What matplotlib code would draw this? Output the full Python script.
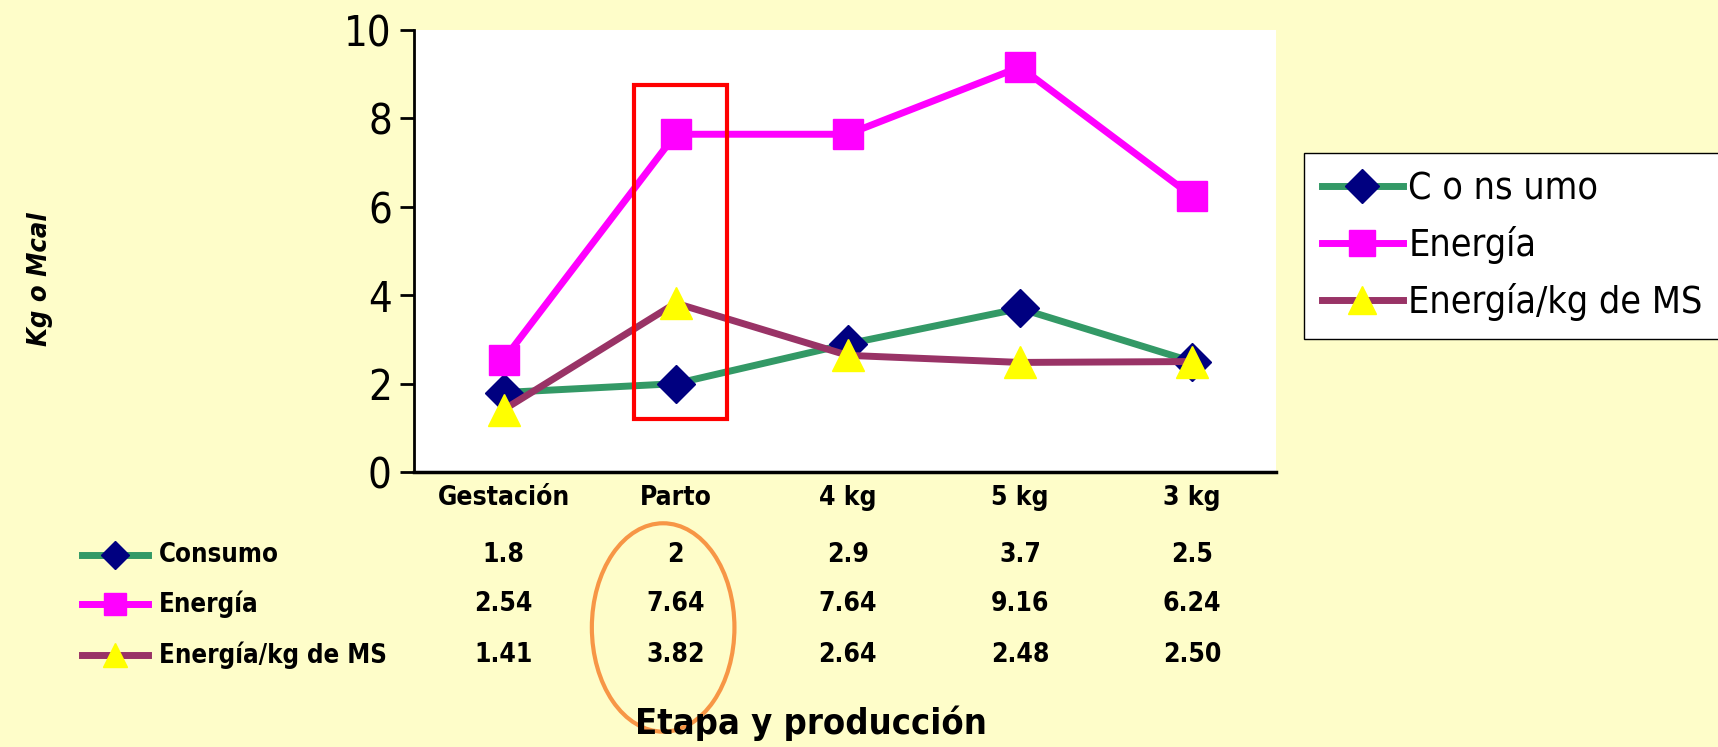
import matplotlib.pyplot as plt
from matplotlib.lines import Line2D
from matplotlib.patches import Rectangle, Ellipse
from matplotlib.transforms import blended_transform_factory

# Datos
etapas = ['Gestación', 'Parto', '4 kg', '5 kg', '3 kg']
consumo = [1.8, 2, 2.9, 3.7, 2.5]
energia = [2.54, 7.64, 7.64, 9.16, 6.24]
energia_ms = [1.41, 3.82, 2.64, 2.48, 2.50]
tabla_consumo = ['1.8', '2', '2.9', '3.7', '2.5']
tabla_energia = ['2.54', '7.64', '7.64', '9.16', '6.24']
tabla_energia_ms = ['1.41', '3.82', '2.64', '2.48', '2.50']

plt.rcParams['font.family'] = ['DejaVu Sans']
plt.rcParams['font.stretch'] = 'condensed'

fondo = '#FEFDC9'
fig = plt.figure(figsize=(17.18, 7.47), dpi=100, facecolor=fondo)
ax = fig.add_axes([0.241, 0.368, 0.502, 0.592])
ax.set_facecolor('white')

x = list(range(len(etapas)))
estilos = [
    ('C o ns umo', consumo, '#339966', 'D', '#000080', 19),
    ('Energía', energia, '#FF00FF', 's', '#FF00FF', 21),
    ('Energía/kg de MS', energia_ms, '#993366', '^', '#FFFF00', 23),
]
for nombre, datos, color, marker, mcolor, ms in estilos:
    ax.plot(x, datos, color=color, lw=5, marker=marker, markersize=ms,
            markerfacecolor=mcolor, markeredgecolor=mcolor, label=nombre, clip_on=False)

ax.set_xlim(-0.52, 4.49)
ax.set_ylim(0, 10)
ax.set_yticks([0, 2, 4, 6, 8, 10])
ax.tick_params(axis='y', labelsize=30, length=10, width=2, direction='out', pad=6)
ax.set_xticks([])
for s in ['top', 'right']:
    ax.spines[s].set_visible(False)
ax.spines['left'].set_linewidth(2)
ax.spines['bottom'].set_linewidth(2.5)

# Recuadro rojo en "Parto"
ax.add_patch(Rectangle((0.76, 1.2), 0.54, 7.55, fill=False, edgecolor='#FF0000',
                       lw=3, clip_on=False, zorder=5))

# Leyenda
fig.legend(loc='upper left', bbox_to_anchor=(0.759, 0.795), fontsize=27,
           frameon=True, fancybox=False, edgecolor='black', framealpha=1,
           handlelength=2.15, handletextpad=0.15, labelspacing=0.5, borderpad=0.48,
           borderaxespad=0, markerscale=0.9)

# Tabla de datos bajo el eje
tr = blended_transform_factory(ax.transData, fig.transFigure)
for i, e in enumerate(etapas):
    ax.text(i, 0.333, e, transform=tr, ha='center', va='center',
            fontsize=19, fontweight='bold')

filas = [('Consumo', tabla_consumo, estilos[0]),
         ('Energía', tabla_energia, estilos[1]),
         ('Energía/kg de MS', tabla_energia_ms, estilos[2])]
ys = [0.257, 0.191, 0.123]
for (nombre, valores, est), yy in zip(filas, ys):
    for i, v in enumerate(valores):
        ax.text(i, yy, v, transform=tr, ha='center', va='center',
                fontsize=19, fontweight='bold')
    fig.add_artist(Line2D([0.048, 0.067, 0.086], [yy, yy, yy], color=est[2], lw=5,
                          marker=est[3], markevery=[1], markersize=est[5] * 0.75,
                          markerfacecolor=est[4], markeredgecolor=est[4]))
    fig.text(0.0925, yy, nombre, ha='left', va='center', fontsize=18.5, fontweight='bold')

# Elipse naranja
fig.add_artist(Ellipse((0.386, 0.160), 0.083, 0.279, transform=fig.transFigure,
                       fill=False, edgecolor='#F79646', lw=3))

fig.text(0.472, 0.032, 'Etapa y producción', ha='center', va='center',
         fontsize=26, fontweight='bold')
fig.text(0.023, 0.626, 'Kg o Mcal', ha='center', va='center', rotation=90,
         fontsize=19.5, fontweight='bold', style='italic')

fig.savefig('out.png', dpi=100, facecolor=fondo)
